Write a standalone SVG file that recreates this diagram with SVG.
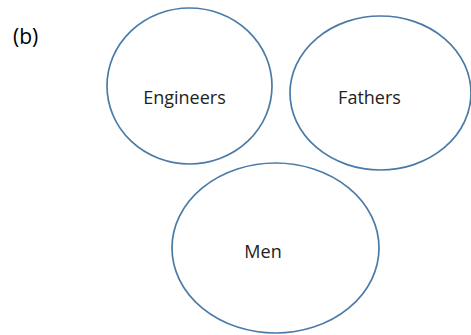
<svg xmlns="http://www.w3.org/2000/svg" width="471" height="335" viewBox="0 0 471 335">
<style>
.node ellipse{fill:#ffffff;stroke:#4a7aa6;stroke-width:1.7}
.lbl{font-family:"Open Sans","Noto Sans",sans-serif;font-size:18px;fill:#222222;text-anchor:middle}
</style>
<rect width="471" height="335" fill="#ffffff"/>
<text x="13" y="44" style="font-family:'Open Sans','Noto Sans',sans-serif;font-size:21px;fill:#000000">(b)</text>
<g id="connectors"></g>
<g id="engineers" class="node">
<ellipse cx="189.5" cy="86" rx="82.5" ry="78"/>
<text class="lbl" x="184.5" y="104">Engineers</text>
</g>
<g id="fathers" class="node">
<ellipse cx="380.5" cy="93" rx="90.5" ry="77"/>
<text class="lbl" x="369.5" y="104">Fathers</text>
</g>
<g id="men" class="node">
<ellipse cx="275.5" cy="248" rx="103.5" ry="85"/>
<text class="lbl" x="263" y="258">Men</text>
</g>
</svg>
